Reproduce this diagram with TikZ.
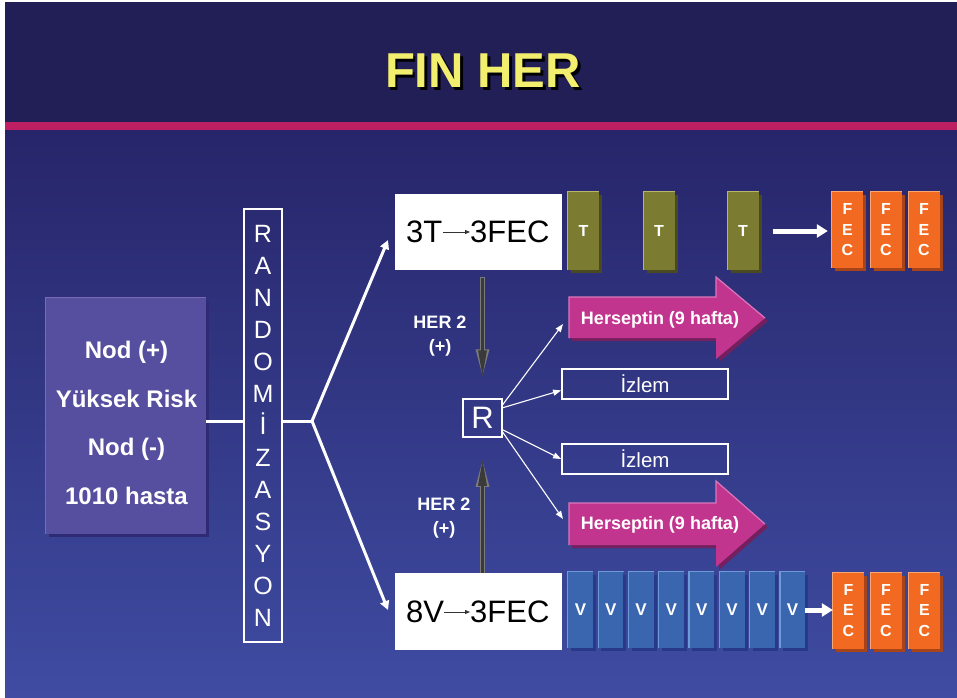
\documentclass[tikz,border=0pt]{standalone}
\usepackage{fontspec}
\setmainfont{Liberation Sans}
\usetikzlibrary{shadows,arrows.meta,calc}

\definecolor{bandtop}{HTML}{221F57}
\definecolor{bgtop}{HTML}{27256A}
\definecolor{bgbot}{HTML}{3F4CA2}
\definecolor{pinkline}{HTML}{BE1F63}
\definecolor{titleyellow}{HTML}{F2EE6E}
\definecolor{leftfill}{HTML}{564E9E}
\definecolor{leftedge}{HTML}{7C68B8}
\definecolor{leftshade}{HTML}{2E2B74}
\definecolor{olv}{HTML}{7B7B32}
\definecolor{olvlight}{HTML}{B8B66A}
\definecolor{olvdark}{HTML}{4A4A22}
\definecolor{orng}{HTML}{F26A21}
\definecolor{orlight}{HTML}{F9A672}
\definecolor{ordark}{HTML}{A8441A}
\definecolor{vblue}{HTML}{3A66B0}
\definecolor{vlight}{HTML}{6C9BD8}
\definecolor{vdark}{HTML}{28398A}
\definecolor{mag}{HTML}{C2358F}
\definecolor{maglight}{HTML}{DC76BC}
\definecolor{magdark}{HTML}{74205E}
\definecolor{herdark}{HTML}{3A3A3A}
\definecolor{heredge}{HTML}{7A7A7A}

\newcommand\pxfont[2]{\fontsize{#1}{#2}\selectfont}

\begin{document}
\begin{tikzpicture}[x=1pt,y=-1pt,
  tile/.style={inner sep=0pt, text=white, font=\bfseries\pxfont{16}{16}},
  olivetile/.style={tile, fill=olv, minimum width=31pt, minimum height=78pt,
    general shadow={fill=olvdark, shadow xshift=3pt, shadow yshift=-3pt}},
  fectile/.style={tile, fill=orng, minimum width=31pt, minimum height=76pt,
    align=center, font=\bfseries\pxfont{16}{20.5},
    general shadow={fill=ordark, shadow xshift=3pt, shadow yshift=-3pt}},
  vtile/.style={tile, fill=vblue, minimum width=25pt, minimum height=76pt,
    font=\bfseries\pxfont{17}{17},
    general shadow={fill=vdark, shadow xshift=3pt, shadow yshift=-3pt}},
  regimen/.style={fill=white, inner sep=0pt, minimum width=167pt, minimum height=76pt},
  regtext/.style={inner sep=0pt, font=\pxfont{31}{31}, text=black},
  smallarrow/.style={draw=black!80, line width=0.8pt, -{Triangle[length=5pt,width=4pt]}},
  outlinebox/.style={draw=white, inner sep=0pt, text=white},
  whitetext/.style={text=white, inner sep=0pt},
  branch/.style={draw=white, line width=3pt, -{Triangle[length=9pt,width=9pt]}},
  fanarrow/.style={draw=white, line width=1.1pt, -{Triangle[length=8pt,width=6pt]}},
  bigwhite/.style={draw=white, line width=5pt, -{Triangle[length=11pt,width=13pt]}},
  herseparrow/.style={fill=mag, general shadow={fill=magdark, shadow xshift=3pt, shadow yshift=-3pt}},
  herstext/.style={whitetext, font=\bfseries\pxfont{18}{18}},
  her2text/.style={whitetext, align=center, font=\bfseries\pxfont{18}{24}},
]
\useasboundingbox (0,0) rectangle (957,697);

% page and slide background
\fill[white] (0,0) rectangle (957,697);
\fill[bandtop] (5,2) rectangle (957,122);
\shade[top color=bgtop, bottom color=bgbot] (5,130) rectangle (957,697);
\fill[pinkline] (5,122) rectangle (957,130);

% title, drawn twice for its drop shadow
\foreach \dx/\dy/\col in {2.5/2.5/black, 0/0/titleyellow}
  \node[inner sep=0pt, text=\col, font=\bfseries\pxfont{49}{49}] at (483+\dx,71+\dy) {FIN HER};
\coordinate (title) at (483,71);

% patient group box
\node[fill=leftfill, minimum width=160pt, minimum height=236pt, inner sep=0pt,
  general shadow={fill=leftshade, shadow xshift=3pt, shadow yshift=-3pt}] (group) at (126,416) {};
\draw[leftedge, line width=1.3pt] (group.south west) -- (group.north west) -- (group.north east);
\node[whitetext, align=center, font=\bfseries\pxfont{24}{48.7}] (grouptext) at (126.5,423)
  {Nod (+)\\Yüksek Risk\\Nod (-)\\1010 hasta};

% randomisation column
\node[outlinebox, line width=1.2pt, minimum width=38pt, minimum height=433pt,
  align=center, font=\pxfont{25}{32}] (rand) at (263,425.5)
  {R\\A\\N\\D\\O\\M\\İ\\Z\\A\\S\\Y\\O\\N};

\coordinate (fork) at (312,421);
\coordinate (upTip) at (388,240);
\coordinate (downTip) at (388,610);

\draw[white, line width=3pt] (group.east |- fork) -- (rand.west |- fork);
\draw[white, line width=3pt] (rand.east |- fork) -- (fork);
\draw[branch] (fork) -- (upTip);
\draw[branch] (fork) -- (downTip);

% R box
\node[outlinebox, line width=1.5pt, minimum width=39pt, minimum height=38pt,
  font=\pxfont{31}{31}] (R) at (482.5,418) {R};

% regimen boxes
\node[regimen] (topreg) at (478.5,232) {};
\node[regimen, minimum height=77pt] (botreg) at (478.5,611.5) {};

% HER 2 selection arrows
\draw[heredge, line width=5.5pt, shorten <=7pt, shorten >=20pt, -{Triangle[length=29pt,width=12pt]}]
  (topreg.south -| R.north) -- (R.north);
\draw[herdark, line width=3pt, shorten <=8pt, shorten >=21pt, -{Triangle[length=27pt,width=8pt]}]
  (topreg.south -| R.north) -- (R.north);
\draw[heredge, line width=5.5pt, shorten <=0pt, shorten >=20pt, -{Triangle[length=29pt,width=12pt]}]
  (botreg.north -| R.south) -- (R.south);
\draw[herdark, line width=3pt, shorten <=0pt, shorten >=21pt, -{Triangle[length=27pt,width=8pt]}]
  (botreg.north -| R.south) -- (R.south);

\node[her2text] (her2top) at (440,336) {HER 2\\(+)};
\node[her2text] (her2bot) at (444,518.5) {HER 2\\(+)};

% regimen labels
\node[regtext, anchor=west] (t3) at (406,232) {3T};
\node[regtext, anchor=west] (t3fec) at (470,232) {3FEC};
\draw[smallarrow] (t3.east) -- (t3fec.west);
\node[regtext, anchor=west] (v8) at (406,612) {8V};
\node[regtext, anchor=west] (v8fec) at (470,612) {3FEC};
\draw[smallarrow] (v8.east) -- (v8fec.west);

% taxane cycles
\node[olivetile] (T1) at (583.5,231) {T};
\node[olivetile] (T2) at (659,231) {T};
\node[olivetile] (T3) at (743,231) {T};
\foreach \n in {T1,T2,T3}
  \draw[olvlight, line width=1.2pt] (\n.south west) -- (\n.north west) -- (\n.north east);

% vinorelbine cycles
\foreach \i in {1,...,8}{
  \node[vtile] (V\i) at ({580.5+30.3*(\i-1)},610) {V};
  \draw[vlight, line width=1.2pt] (V\i.south west) -- (V\i.north west) -- (V\i.north east);
}

% FEC cycles
\node[fectile] (FA1) at (847.5,230) {F\\E\\C};
\node[fectile] (FA2) at (886,230) {F\\E\\C};
\node[fectile] (FA3) at (924,230) {F\\E\\C};
\node[fectile] (FB1) at (848.5,610.5) {F\\E\\C};
\node[fectile] (FB2) at (886,610.5) {F\\E\\C};
\node[fectile] (FB3) at (924.5,610.5) {F\\E\\C};
\foreach \n in {FA1,FA2,FA3,FB1,FB2,FB3}
  \draw[orlight, line width=1.2pt] (\n.south west) -- (\n.north west) -- (\n.north east);

\draw[bigwhite, shorten <=14pt, shorten >=4pt] (T3.east) -- (FA1.west |- T3.east);
\draw[bigwhite, shorten <=0pt, shorten >=0pt] (V8.east) -- (FB1.west |- V8.east);

% Herceptin arms
\path[herseparrow] (569,297) -- (716,297) -- (716,277) -- (765,318) -- (716,359) -- (716,338) -- (569,338) -- cycle;
\draw[maglight, line width=1.2pt] (569,338) -- (569,297) -- (716,297) -- (716,277) -- (765,318);
\path[herseparrow] (569,503) -- (716,503) -- (716,481) -- (765,524) -- (716,567) -- (716,545) -- (569,545) -- cycle;
\draw[maglight, line width=1.2pt] (569,545) -- (569,503) -- (716,503) -- (716,481) -- (765,524);
\node[herstext] (hers1) at (660,320) {Herseptin (9 hafta)};
\node[herstext] (hers2) at (660,525) {Herseptin (9 hafta)};
\coordinate (hers1in) at (563,324);
\coordinate (hers2in) at (563,519);

% observation arms
\node[outlinebox, line width=1.8pt, minimum width=166pt, minimum height=30pt,
  font=\pxfont{20.5}{20.5}] (iz1) at (645,384) {İzlem};
\node[outlinebox, line width=1.8pt, minimum width=166pt, minimum height=30pt,
  font=\pxfont{20.5}{20.5}] (iz2) at (645,459) {İzlem};

% second randomisation fan
\draw[fanarrow] ($(R.north east)!0.16!(R.south east)$) -- (hers1in);
\draw[fanarrow] ($(R.north east)!0.24!(R.south east)$) -- ($(iz1.south west)!0.3!(iz1.north west)$);
\draw[fanarrow] ($(R.north east)!0.8!(R.south east)$) -- (iz2.west);
\draw[fanarrow] ($(R.north east)!0.86!(R.south east)$) -- (hers2in);
\end{tikzpicture}
\end{document}
